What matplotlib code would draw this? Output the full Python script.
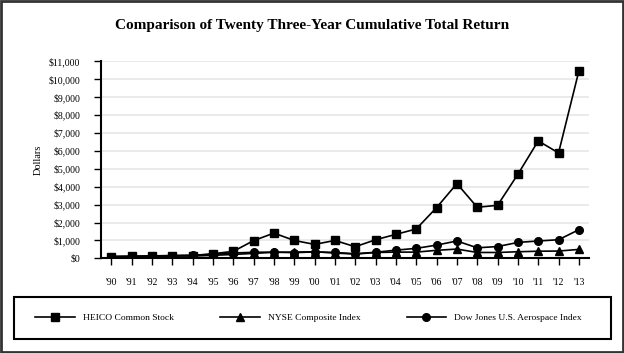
import matplotlib.pyplot as plt
from matplotlib.patches import Rectangle

years = ["'90", "'91", "'92", "'93", "'94", "'95", "'96", "'97", "'98", "'99", "'00", "'01",
         "'02", "'03", "'04", "'05", "'06", "'07", "'08", "'09", "'10", "'11", "'12", "'13"]

heico = [100, 110, 130, 150, 160, 260, 390, 990, 1410, 1000, 780, 1000,
         650, 1040, 1340, 1640, 2830, 4170, 2850, 2960, 4690, 6550, 5880, 10450]
nyse = [100, 110, 120, 130, 130, 170, 220, 280, 340, 350, 370, 300,
        240, 330, 350, 350, 450, 520, 330, 330, 370, 400, 410, 500]
dowjones = [100, 120, 140, 160, 180, 220, 300, 340, 350, 320, 360, 330,
            260, 340, 460, 560, 740, 970, 590, 660, 890, 970, 1040, 1600]

yticks = list(range(0, 11001, 1000))
ytick_labels = ["$0"] + ["${:,}".format(v) for v in yticks[1:]]

plt.rcParams['font.family'] = ['Liberation Serif', 'DejaVu Serif']

fig = plt.figure(figsize=(6.24, 3.53), dpi=100)
ax = fig.add_axes([0.162, 0.268, 0.782, 0.559])

x = list(range(len(years)))
ax.plot(x, heico, color="black", lw=1.2, marker="s", markersize=5.5, label="HEICO Common Stock", zorder=3)
ax.plot(x, nyse, color="black", lw=1.2, marker="^", markersize=5.5, label="NYSE Composite Index", zorder=3)
ax.plot(x, dowjones, color="black", lw=1.2, marker="o", markersize=5.5, label="Dow Jones U.S. Aerospace Index", zorder=3)

ax.set_xlim(-0.5, len(years) - 0.5)
ax.set_ylim(0, 11000)
ax.set_xticks(x)
ax.set_xticklabels(years, fontsize=7)
ax.set_yticks(yticks)
ax.set_yticklabels(ytick_labels, fontsize=7)
ax.tick_params(axis="y", direction="out", length=5, width=1, pad=10)
ax.tick_params(axis="x", direction="out", length=5, width=1, pad=9)
ax.yaxis.grid(True, color="#e6e6e6", lw=1.2)
ax.set_axisbelow(True)
for side in ["top", "right"]:
    ax.spines[side].set_visible(False)
ax.spines["left"].set_linewidth(1.5)
ax.spines["bottom"].set_linewidth(1.5)
ax.set_ylabel("Dollars", fontsize=7.5, labelpad=4)

fig.text(0.5, 0.928, "Comparison of Twenty Three-Year Cumulative Total Return",
         ha="center", va="center", fontsize=11, fontweight="bold")

# legend box
fig.patches.append(Rectangle((14 / 624, 14 / 353), 597 / 624, 42 / 353, transform=fig.transFigure,
                             fill=False, edgecolor="black", lw=1.5))
leg = fig.legend(loc="center left", bbox_to_anchor=(35 / 624, 35 / 353),
                 ncol=3, fontsize=6.8, frameon=False, borderpad=0, borderaxespad=0,
                 handlelength=4.2, handletextpad=0.85, columnspacing=4.9)

fig.patches.append(Rectangle((0.002, 0.003), 0.996, 0.994, transform=fig.transFigure,
                             fill=False, edgecolor="#333333", lw=2))

fig.savefig("out.png", dpi=100)
